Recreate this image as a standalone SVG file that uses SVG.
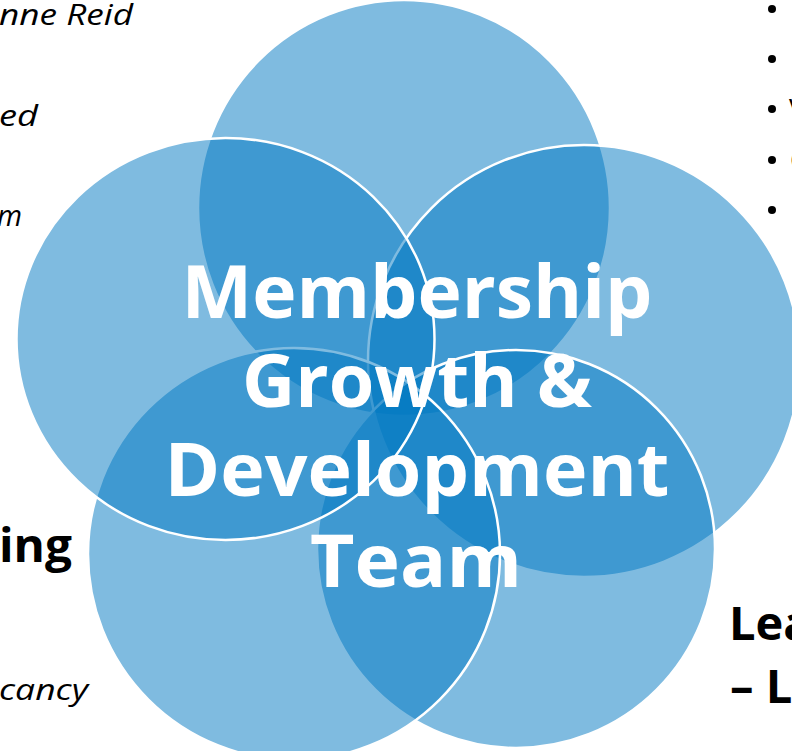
<svg xmlns="http://www.w3.org/2000/svg" width="792" height="751" viewBox="0 0 792 751">
<style>
.c{fill:#0077c1;fill-opacity:0.5;stroke:#ffffff;stroke-width:2.5}
.t{fill:#ffffff;font-family:"Open Sans","Liberation Sans",sans-serif;font-weight:700;font-size:74px;text-anchor:middle}
.it{fill:#000000;font-family:"Open Sans","Liberation Sans",sans-serif;font-style:italic;font-size:30px}
.b{fill:#000000;font-family:"Open Sans","Liberation Sans",sans-serif;font-weight:700;font-size:47px}
.bl{fill:#000000}
.pt{fill:#000000;font-family:"Open Sans","Liberation Sans",sans-serif;font-size:28px}
</style>
<rect width="792" height="751" fill="#ffffff"/>
<g id="side-text">
<text class="it" x="-1" y="25" textLength="134" lengthAdjust="spacingAndGlyphs">nne Reid</text>
<text class="it" x="-1" y="126" textLength="39" lengthAdjust="spacingAndGlyphs">ed</text>
<text class="it" x="-3" y="226" textLength="25" lengthAdjust="spacingAndGlyphs">m</text>
<text class="b" x="-1" y="562" textLength="73" lengthAdjust="spacingAndGlyphs">ing</text>
<text class="it" x="-1" y="700" textLength="89" lengthAdjust="spacingAndGlyphs">cancy</text>
<text class="b" x="729" y="640">Lea</text>
<text class="b" x="730" y="703">– L</text>
<circle class="bl" cx="772" cy="9" r="4"/>
<circle class="bl" cx="772" cy="59" r="4"/>
<circle class="bl" cx="772" cy="109" r="4"/>
<circle class="bl" cx="772" cy="160" r="4"/>
<circle class="bl" cx="772" cy="210" r="4"/>
<text class="pt" x="790" y="69">D</text>
<text class="pt" x="789" y="119">V</text>
<text class="pt" x="790" y="170">C</text>
<text class="pt" x="790" y="220">D</text>
</g>
<g id="node-top"><ellipse class="c" cx="404" cy="208" rx="206" ry="208"/></g>
<g id="node-right"><circle class="c" cx="584" cy="361" r="216"/></g>
<g id="node-bottom-right"><circle class="c" cx="516" cy="549" r="199"/></g>
<g id="node-bottom-left"><circle class="c" cx="294" cy="554" r="206"/></g>
<g id="node-left"><ellipse class="c" cx="225.5" cy="339" rx="209" ry="201"/></g>
<g id="connectors"></g>
<g id="title">
<text class="t" x="417" y="318" textLength="471" lengthAdjust="spacingAndGlyphs">Membership</text>
<text class="t" x="417" y="407" textLength="350" lengthAdjust="spacingAndGlyphs">Growth &amp;</text>
<text class="t" x="417" y="496" textLength="505" lengthAdjust="spacingAndGlyphs">Development</text>
<text class="t" x="416" y="587" textLength="212" lengthAdjust="spacingAndGlyphs">Team</text>
</g>
</svg>
